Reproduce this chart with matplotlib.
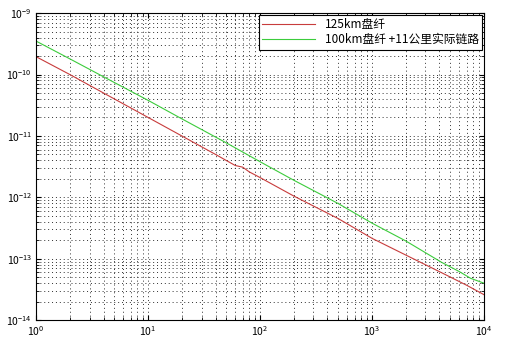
import matplotlib
matplotlib.use('Agg')
import matplotlib.pyplot as plt
from matplotlib.ticker import FixedLocator, NullFormatter, LogFormatterSciNotation

plt.rcParams['font.family'] = ['Noto Sans CJK SC', 'DejaVu Sans']
plt.rcParams['mathtext.fontset'] = 'custom'
plt.rcParams['mathtext.rm'] = 'Liberation Sans'
plt.rcParams['mathtext.it'] = 'Liberation Sans:italic'

# Allan deviation curves
tau_red = [1, 2, 5, 10, 20, 40, 60, 70, 80, 100, 200, 500, 1000, 2000, 4200, 7000, 10000]
adev_red = [1.95e-10, 1.0e-10, 4.0e-11, 2.0e-11, 1.0e-11, 5.0e-12, 3.3e-12, 3.1e-12, 2.6e-12, 2.1e-12,
            1.05e-12, 4.5e-13, 2.15e-13, 1.15e-13, 5.9e-14, 3.7e-14, 2.6e-14]

tau_green = [1, 2, 5, 10, 20, 50, 100, 200, 500, 1000, 2000, 4200, 6000, 7600, 10000]
adev_green = [3.5e-10, 1.8e-10, 7.4e-11, 3.8e-11, 1.9e-11, 7.7e-12, 3.8e-12, 1.9e-12, 7.9e-13,
              3.8e-13, 1.95e-13, 8.7e-14, 6.2e-14, 4.8e-14, 4.0e-14]

labels = ['125km盘纤', '100km盘纤 +11公里实际链路']
x_major = [1e0, 1e1, 1e2, 1e3, 1e4]
y_major = [1e-14, 1e-13, 1e-12, 1e-11, 1e-10, 1e-9]

fig = plt.figure(figsize=(5.16, 3.45), dpi=100)
ax = fig.add_axes([0.07, 0.072, 0.868, 0.89])

ax.loglog(tau_red, adev_red, color='#c83c3c', lw=0.8, label=labels[0])
ax.loglog(tau_green, adev_green, color='#3ccc3c', lw=0.8, label=labels[1])

ax.set_xlim(1, 1e4)
ax.set_ylim(1e-14, 1e-9)
ax.xaxis.set_major_locator(FixedLocator(x_major))
ax.yaxis.set_major_locator(FixedLocator(y_major))
ax.xaxis.set_major_formatter(LogFormatterSciNotation())
ax.yaxis.set_major_formatter(LogFormatterSciNotation())
x_minor = [m * d for d in x_major[:-1] for m in range(2, 10)]
y_minor = [m * d for d in y_major[:-1] for m in range(2, 10)]
ax.xaxis.set_minor_locator(FixedLocator(x_minor))
ax.yaxis.set_minor_locator(FixedLocator(y_minor))
ax.xaxis.set_minor_formatter(NullFormatter())
ax.yaxis.set_minor_formatter(NullFormatter())

ax.grid(True, which='both', color='#303030', linestyle=(0, (1, 3)), linewidth=0.7)
ax.tick_params(which='both', direction='in', top=True, right=True, labelsize=7.5, pad=3)
for s in ax.spines.values():
    s.set_linewidth(0.8)

leg = ax.legend(loc='upper right', fontsize=8.5, fancybox=False, framealpha=1,
                edgecolor='black', borderaxespad=0.15, handlelength=4.5, borderpad=0.3,
                labelspacing=0.15)
leg.get_frame().set_linewidth(0.8)

plt.savefig('out.png', dpi=100)
plt.close()
